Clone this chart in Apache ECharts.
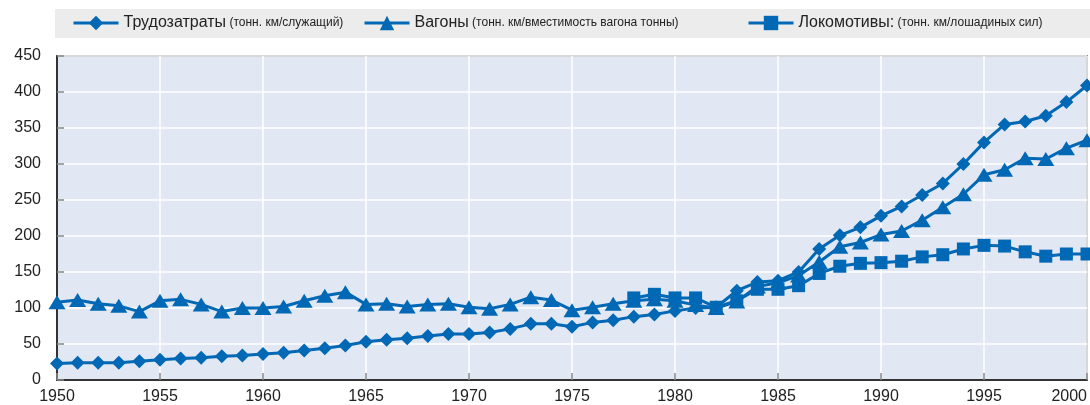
<!DOCTYPE html>
<html>
<head>
<meta charset="utf-8">
<script src="https://cdn.jsdelivr.net/npm/echarts@6/dist/echarts.min.js"></script>
<style>
html,body{margin:0;padding:0;background:#fff;}
#chart{width:1090px;height:405px;}
</style>
</head>
<body>
<div id="chart"></div>
<script>
var years = [];
for (var y = 1950; y <= 2000; y++) years.push(y);

var seriesNames = ['Трудозатраты', 'Вагоны', 'Локомотивы:'];
var seriesUnits = ['(тонн. км/служащий)', '(тонн. км/вместимость вагона тонны)', '(тонн. км/лошадиных сил)'];

var labourValues = [23,24,24,24,26,28,30,31,33,34,36,38,41,44,48,53,56,58,61,64,64,66,71,78,78,74,80,83,88,91,96,100,101,124,136,138,150,182,201,212,228,241,257,273,300,330,355,359,367,386,409];

var wagonValues = [108,111,106,103,95,110,112,105,95,100,100,102,110,117,122,105,106,102,105,106,101,99,105,115,111,97,101,106,110,112,110,104,100,109,130,135,145,164,185,191,202,207,222,240,258,285,292,308,307,322,333];

var locoYears = [1978,1979,1980,1981,1982,1983,1984,1985,1986,1987,1988,1989,1990,1991,1992,1993,1994,1995,1996,1997,1998,1999,2000];
var locoValues = [114,119,114,114,101,110,126,126,131,148,158,162,163,165,171,174,182,187,186,178,172,175,175];

var yTicks = [0,50,100,150,200,250,300,350,400,450];
var xTicks = [1950,1955,1960,1965,1970,1975,1980,1985,1990,1995,2000];

function pairs(xs, vs){ return xs.map(function(x,i){ return [x, vs[i]]; }); }

var COLOR = '#0068b4';
var FONT = 'Liberation Sans, Arial, sans-serif';

function legendFmt(name){
  var i = seriesNames.indexOf(name);
  return '{a|' + name + '} {b|' + seriesUnits[i] + '}';
}
function mkLegend(name, left){
  return {
    data: [name], left: left, top: 15, itemWidth: 45, itemHeight: 18,
    padding: 0, itemGap: 0,
    lineStyle: { width: 3 },
    formatter: legendFmt,
    textStyle: { fontFamily: FONT, color: '#222', rich: { a: { fontSize: 16, fontFamily: FONT, color: '#222' }, b: { fontSize: 12, fontFamily: FONT, color: '#222' } } }
  };
}

var chart = echarts.init(document.getElementById('chart'), null, { renderer: 'canvas' });
chart.setOption({
  animation: false,
  color: [COLOR, COLOR, COLOR],
  graphic: [{ type: 'rect', z: -10, shape: { x: 55, y: 9, width: 1035, height: 29 }, style: { fill: '#ececec' } }],
  legend: [mkLegend(seriesNames[0], 72), mkLegend(seriesNames[1], 363), mkLegend(seriesNames[2], 747)],
  grid: { left: 57, right: 2, top: 56, bottom: 25, show: true, backgroundColor: '#e1e7f3', borderColor: '#333', borderWidth: 1.5 },
  xAxis: {
    type: 'value', min: xTicks[0], max: xTicks[xTicks.length-1], interval: 5,
    axisLine: { show: true, lineStyle: { color: '#333', width: 2 } },
    axisTick: { show: true, inside: true, length: 7, lineStyle: { color: '#888', width: 1.5 } },
    axisLabel: { fontSize: 16, fontFamily: FONT, color: '#222', margin: 9, alignMaxLabel: 'right', formatter: function(v){ return String(v); } },
    splitLine: { show: true, lineStyle: { color: '#fff', width: 1.5 } }
  },
  yAxis: {
    type: 'value', min: yTicks[0], max: yTicks[yTicks.length-1], interval: 50,
    axisLine: { show: true, lineStyle: { color: '#333', width: 2 } },
    axisTick: { show: true, inside: true, length: 7, lineStyle: { color: '#888', width: 1.5 } },
    axisLabel: { fontSize: 16, fontFamily: FONT, color: '#222', margin: 16 },
    splitLine: { show: true, lineStyle: { color: '#fff', width: 1.5 } }
  },
  series: [
    { name: seriesNames[0], type: 'line', data: pairs(years, labourValues), symbol: 'diamond', symbolSize: 14, showAllSymbol: true,
      lineStyle: { width: 3, color: COLOR }, itemStyle: { color: COLOR } },
    { name: seriesNames[1], type: 'line', data: pairs(years, wagonValues), symbol: 'triangle', symbolSize: [17, 14], showAllSymbol: true,
      lineStyle: { width: 3, color: COLOR }, itemStyle: { color: COLOR } },
    { name: seriesNames[2], type: 'line', data: pairs(locoYears, locoValues), symbol: 'rect', symbolSize: 13, showAllSymbol: true,
      lineStyle: { width: 3, color: COLOR }, itemStyle: { color: COLOR } }
  ]
});
</script>
</body>
</html>
